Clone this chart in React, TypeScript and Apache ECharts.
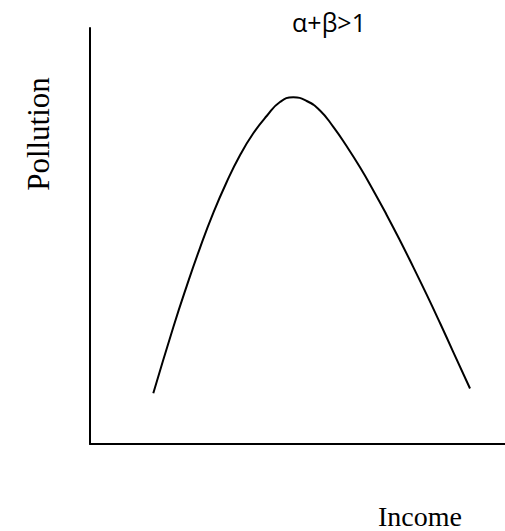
import React, { useEffect, useRef } from "react";
import * as echarts from "echarts";

const incomeValues = [
  15.25, 20.07, 23.3, 26.51, 29.71, 32.94, 36.14, 39.35, 42.58, 45.78, 48.99, 52.22, 55.42,
  58.63, 61.86, 65.06, 68.27, 71.49, 74.7, 77.9, 81.13, 84.34, 87.54, 91.57,
];
const pollutionValues = [
  12.19, 28.08, 37.96, 47.16, 55.55, 62.98, 69.4, 74.69, 78.85, 82.21, 83.34, 82.45, 80.17,
  76.23, 71.56, 66.51, 60.96, 55.07, 48.92, 42.52, 35.91, 29.09, 22.09, 13.34,
];
const titleText = "α+β>1";
const xName = "Income";
const yName = "Pollution";

export default function App() {
  const ref = useRef<HTMLDivElement>(null);
  useEffect(() => {
    if (!ref.current) return;
    const chart = echarts.init(ref.current, null, { renderer: "svg" });
    const data = incomeValues.map((x, i) => [x, pollutionValues[i]]);
    chart.setOption({
      animation: false,
      backgroundColor: "#ffffff",
      title: {
        text: titleText,
        left: 324,
        top: 4,
        textAlign: "center",
        textStyle: { fontFamily: "Open Sans", fontWeight: "normal", fontSize: 25, color: "#000" },
      },
      grid: { left: 90, top: 28, right: 0, bottom: 87 },
      xAxis: {
        type: "value",
        min: 0,
        max: 100,
        axisLine: { show: true, onZero: false, lineStyle: { color: "#000", width: 2 } },
        axisTick: { show: false },
        axisLabel: { show: false },
        splitLine: { show: false },
      },
      yAxis: {
        type: "value",
        min: 0,
        max: 100,
        axisLine: { show: true, onZero: false, lineStyle: { color: "#000", width: 2 } },
        axisTick: { show: false },
        axisLabel: { show: false },
        splitLine: { show: false },
      },
      graphic: [
        {
          type: "text",
          x: 420,
          y: 516,
          style: {
            text: xName,
            font: "28px 'Liberation Serif'",
            fill: "#000",
            align: "center",
            verticalAlign: "middle",
          },
        },
        {
          type: "text",
          x: 38,
          y: 134,
          rotation: Math.PI / 2,
          style: {
            text: yName,
            font: "31px 'Liberation Serif'",
            fill: "#000",
            align: "center",
            verticalAlign: "middle",
          },
        },
      ],
      series: [
        {
          type: "line",
          data,
          smooth: 0.5,
          showSymbol: false,
          symbol: "none",
          lineStyle: { color: "#000", width: 2 },
        },
      ],
    });
    return () => chart.dispose();
  }, []);
  return <div ref={ref} style={{ position: "fixed", left: 0, top: 0, width: 505, height: 531 }} />;
}
